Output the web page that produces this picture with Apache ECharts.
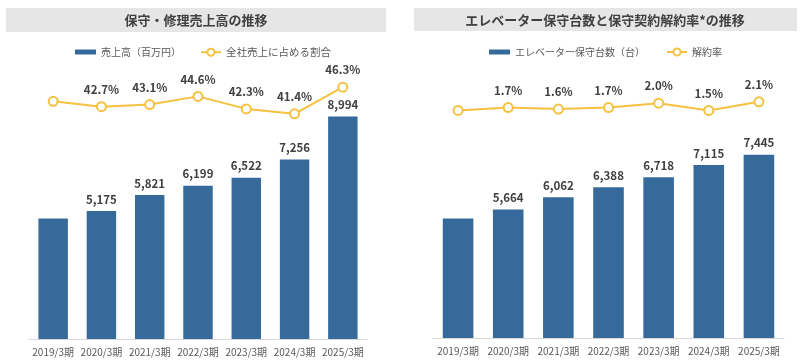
<!DOCTYPE html>
<html><head><meta charset="utf-8">
<script src="https://cdn.jsdelivr.net/npm/echarts@6/dist/echarts.min.js"></script>
<style>html,body{margin:0;padding:0;background:#fff}#c{width:800px;height:364px}</style>
</head><body><div id="c"></div>
<script>
const categories = ['2019/3期','2020/3期','2021/3期','2022/3期','2023/3期','2024/3期','2025/3期'];
const salesValues = [4870, 5175, 5821, 6199, 6522, 7256, 8994];
const salesShare = [43.7, 42.7, 43.1, 44.6, 42.3, 41.4, 46.3];
const unitValues = [5380, 5664, 6062, 6388, 6718, 7115, 7445];
const cancelRate = [1.5, 1.7, 1.6, 1.7, 2.0, 1.5, 2.1];
const leftTitle = '保守・修理売上高の推移';
const rightTitle = 'エレベーター保守台数と保守契約解約率*の推移';
const leftBarName = '売上高（百万円）';
const leftLineName = '全社売上に占める割合';
const rightBarName = 'エレベーター保守台数（台）';
const rightLineName = '解約率';

const FONT = '"Noto Sans CJK JP", "Noto Sans", sans-serif';
const BAR = '#366a9b';
const LINE = '#f5c140';
const TXT = '#404040';
const GRAY = '#595959';

function hideFirst(arr){ return arr.map((v,i)=> i===0 ? {value:v, label:{show:false}} : v); }

const chart = echarts.init(document.getElementById('c'), null, {renderer:'canvas'});
const labelBase = {show:true, position:'top', color:TXT, fontWeight:'bold', fontSize:11.5, fontFamily:FONT};
const xAxisBase = {
  type:'category', data:categories,
  axisLine:{onZero:false, lineStyle:{color:'#d9d9d9'}}, axisTick:{show:false},
  axisLabel:{color:GRAY, fontSize:10, fontFamily:FONT, margin:8, interval:0}
};
const hiddenY = {type:'value', show:false, splitLine:{show:false}};

chart.setOption({
  animation:false,
  graphic:[
    {type:'rect', shape:{x:6,y:8,width:380,height:24}, style:{fill:'#e7e6e6'}},
    {type:'rect', shape:{x:414,y:8,width:383,height:23}, style:{fill:'#e7e6e6'}},
    {type:'text', x:196, y:20.5, style:{text:leftTitle, fill:TXT, font:'bold 13px '+FONT, textAlign:'center', textVerticalAlign:'middle'}},
    {type:'text', x:605, y:20, style:{text:rightTitle, fill:TXT, font:'bold 13px '+FONT, textAlign:'center', textVerticalAlign:'middle'}}
  ],
  legend:[
    {data:[leftBarName], left:70, top:42, itemWidth:21, itemHeight:5, icon:'rect', textStyle:{color:GRAY, fontSize:10, fontFamily:FONT}},
    {data:[leftLineName], left:195, top:42, itemWidth:20, itemHeight:9, textStyle:{color:GRAY, fontSize:10.5, fontFamily:FONT}},
    {data:[rightBarName], left:484, top:42, itemWidth:21, itemHeight:5, icon:'rect', textStyle:{color:GRAY, fontSize:10, fontFamily:FONT}},
    {data:[rightLineName], left:661, top:42, itemWidth:20, itemHeight:9, textStyle:{color:GRAY, fontSize:10, fontFamily:FONT}}
  ],
  grid:[
    {left:29, width:338, top:67, height:272},
    {left:433, width:351, top:67, height:271}
  ],
  xAxis:[
    Object.assign({gridIndex:0}, xAxisBase),
    Object.assign({gridIndex:1}, xAxisBase)
  ],
  yAxis:[
    Object.assign({gridIndex:0, min:0, max:11000}, hiddenY),
    Object.assign({gridIndex:0, min:0, max:50}, hiddenY),
    Object.assign({gridIndex:1, min:1500, max:10290}, hiddenY),
    Object.assign({gridIndex:1, min:-14.2, max:4.5}, hiddenY)
  ],
  series:[
    {name:leftBarName, type:'bar', xAxisIndex:0, yAxisIndex:0, data:hideFirst(salesValues), barWidth:'61%',
     itemStyle:{color:BAR}, label:Object.assign({distance:6, formatter:p=>p.value.toLocaleString('en-US')}, labelBase)},
    {name:leftLineName, type:'line', xAxisIndex:0, yAxisIndex:1, data:hideFirst(salesShare),
     symbol:'circle', symbolSize:9, lineStyle:{color:LINE, width:2}, itemStyle:{color:'#fff', borderColor:LINE, borderWidth:2},
     label:Object.assign({distance:6, formatter:p=>p.value.toFixed(1)+'%'}, labelBase)},
    {name:rightBarName, type:'bar', xAxisIndex:1, yAxisIndex:2, data:hideFirst(unitValues), barWidth:'61%',
     itemStyle:{color:BAR}, label:Object.assign({distance:6, formatter:p=>p.value.toLocaleString('en-US')}, labelBase)},
    {name:rightLineName, type:'line', xAxisIndex:1, yAxisIndex:3, data:hideFirst(cancelRate),
     symbol:'circle', symbolSize:9, lineStyle:{color:LINE, width:2}, itemStyle:{color:'#fff', borderColor:LINE, borderWidth:2},
     label:Object.assign({distance:6, formatter:p=>p.value.toFixed(1)+'%'}, labelBase)}
  ]
});
</script></body></html>
